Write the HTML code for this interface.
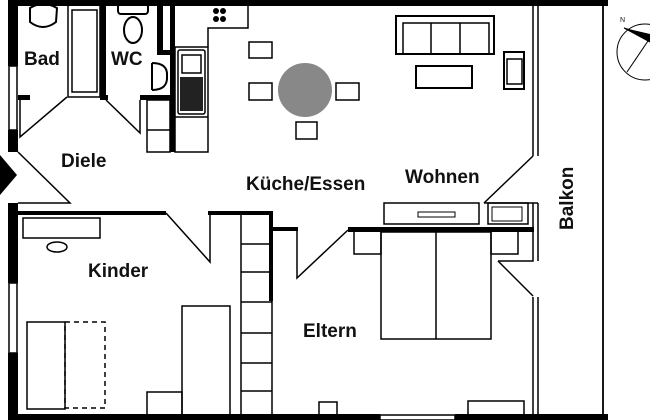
<!DOCTYPE html>
<html><head><meta charset="utf-8"><style>
html,body{margin:0;padding:0;background:#fff;}
svg{display:block}
text{font-family:"Liberation Sans",sans-serif;font-weight:bold;font-size:19px;fill:#111}
</style></head><body>
<svg width="650" height="420" viewBox="0 0 650 420" xmlns="http://www.w3.org/2000/svg">
<rect width="650" height="420" fill="#fff"/>
<g fill="#000">
<!-- outer walls -->
<rect x="8" y="0" width="600" height="6"/>
<rect x="8" y="0" width="10" height="66"/>
<rect x="8" y="130" width="10" height="22"/>
<rect x="8" y="203" width="10" height="80"/>
<rect x="8" y="353" width="10" height="67"/>
<rect x="8" y="414" width="372" height="6"/>
<rect x="455" y="414" width="153" height="6"/>
<polygon points="0,155 17,175 0,195"/>
<!-- interior walls -->
<rect x="100" y="0" width="6" height="100"/>
<rect x="18" y="95" width="12" height="5"/>
<rect x="100" y="95" width="8" height="5"/>
<rect x="140" y="95" width="32" height="5"/>
<rect x="157" y="0" width="6" height="54"/>
<rect x="157" y="50" width="15" height="5"/>
<rect x="170" y="0" width="5" height="152"/>
<rect x="18" y="211" width="148" height="4"/>
<rect x="208" y="211" width="65" height="4"/>
<rect x="269" y="211" width="4" height="90"/>
<rect x="273" y="227" width="25" height="4"/>
<rect x="348" y="227" width="186" height="5"/>
</g>
<g fill="none" stroke="#000" stroke-width="1.5">
<!-- windows -->
<rect x="9" y="66" width="8" height="64"/>
<rect x="9" y="283" width="8" height="70"/>
<rect x="380" y="415" width="75" height="5"/>
<!-- right double walls -->
<path d="M533 6V156M538 6V156"/>
<path d="M533 203V261H498M538 203V261"/>
<path d="M533 297V420M538 297V420"/>
<path d="M484 203H538"/>
<path d="M603 0V420" stroke-width="1.8"/>
<!-- doors -->
<path d="M20 100V137L67 97"/>
<path d="M106 100L140 133V100"/>
<path d="M18 152L70 203H18"/>
<path d="M166 213L210 262V213"/>
<path d="M297 231V278L348 230"/>
<path d="M533 156L484 203"/>
<path d="M498 261L533 296"/>
<!-- bathroom -->
<rect x="68" y="5" width="32" height="92"/>
<rect x="72" y="10" width="25" height="82"/>
<path d="M30 8 Q43 0 57 8 L56 22 Q43 32 30 22 Z" stroke-width="2"/>
<rect x="118" y="4" width="30" height="10" rx="3" stroke-width="2"/>
<ellipse cx="133" cy="30" rx="9" ry="13" stroke-width="2"/>
<path d="M152 63V90 M152 63 Q168 63 167 76 Q168 90 152 90" stroke-width="2"/>
<!-- kitchen -->
<rect x="147" y="100" width="23" height="52"/>
<path d="M147 130H170"/>
<rect x="175" y="47" width="33" height="105"/>
<path d="M175 117H208"/>
<rect x="178" y="50" width="27" height="64" rx="2"/>
<rect x="182" y="55" width="19" height="18"/>
<path d="M208 47V28H248V6"/>
<rect x="249" y="42" width="23" height="16"/>
<rect x="249" y="83" width="23" height="17"/>
<rect x="336" y="83" width="23" height="17"/>
<rect x="296" y="122" width="21" height="17"/>
<!-- living -->
<rect x="396" y="16" width="98" height="38" stroke-width="2"/>
<path d="M403 54V23H489V54M431 23V54M460 23V54"/>
<rect x="416" y="66" width="56" height="22" stroke-width="2"/>
<rect x="504" y="52" width="20" height="37" stroke-width="2"/>
<rect x="507" y="59" width="15" height="25"/>
<!-- Kinder -->
<rect x="23" y="218" width="77" height="20"/>
<ellipse cx="57" cy="247" rx="10" ry="5"/>
<rect x="27" y="322" width="38" height="87"/>
<rect x="65" y="322" width="40" height="86" stroke-dasharray="5,4"/>
<rect x="182" y="306" width="48" height="112"/>
<rect x="147" y="392" width="35" height="26"/>
<rect x="241" y="213" width="31" height="205"/>
<path d="M241 244H272M241 272H272M241 302H272M241 333H272M241 363H272M241 391H272"/>
<!-- Eltern -->
<rect x="381" y="232" width="110" height="107"/>
<path d="M436 232V339"/>
<rect x="354" y="231" width="27" height="23"/>
<rect x="491" y="231" width="27" height="23"/>
<rect x="384" y="203" width="95" height="21"/>
<rect x="418" y="212" width="37" height="5" stroke-width="1"/>
<rect x="488" y="203" width="40" height="21"/>
<rect x="492" y="207" width="30" height="14" stroke-width="1"/>
<rect x="319" y="402" width="18" height="16"/>
<rect x="468" y="401" width="56" height="17"/>
<!-- compass -->
<circle cx="645" cy="52" r="28" stroke-width="1"/>
<path d="M624 28L650 36M624 28L650 42M627 72L650 38" stroke-width="1"/>
</g>
<circle cx="305" cy="90" r="27" fill="#888"/>
<g fill="#000">
<circle cx="216" cy="11" r="3"/><circle cx="223" cy="11" r="3"/>
<circle cx="216" cy="19" r="3"/><circle cx="223" cy="19" r="3"/>
<rect x="180" y="77" width="23" height="34" fill="#222"/>
<polygon points="624,28 650,34 650,42"/>
</g>
<text x="620" y="22" style="font-size:7px;font-weight:normal">N</text>
<text x="24" y="65">Bad</text>
<text x="111" y="65">WC</text>
<text x="61" y="167">Diele</text>
<text x="246" y="190">Küche/Essen</text>
<text x="405" y="183">Wohnen</text>
<text x="88" y="277">Kinder</text>
<text x="303" y="337">Eltern</text>
<text x="0" y="0" transform="translate(573,230) rotate(-90)">Balkon</text>
</svg>
</body></html>
